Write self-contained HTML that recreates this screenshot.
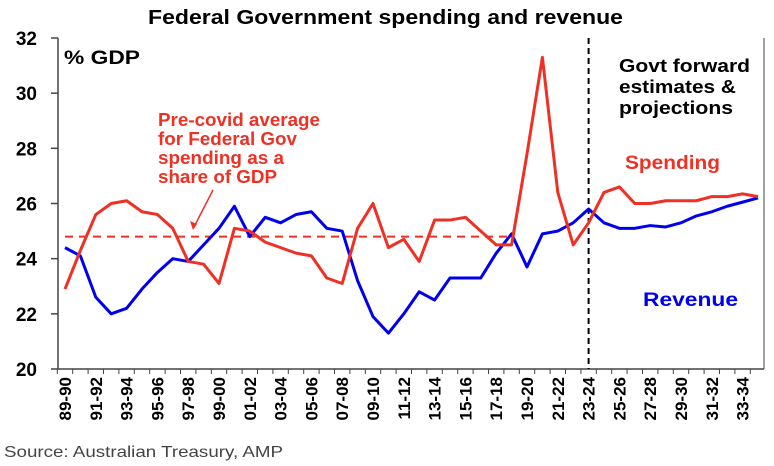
<!DOCTYPE html>
<html><head><meta charset="utf-8"><style>
body{margin:0;background:#fff;}
svg{display:block;font-family:"Liberation Sans",Arial,sans-serif;}
</style></head><body>
<svg id="chart" width="774" height="466" xmlns="http://www.w3.org/2000/svg">
<text x="148" y="24" font-size="20" font-weight="bold" textLength="475" lengthAdjust="spacingAndGlyphs">Federal Government spending and revenue</text>
<text x="4" y="457" font-size="16" fill="#444" textLength="279" lengthAdjust="spacingAndGlyphs">Source: Australian Treasury, AMP</text>
<text x="64" y="64" font-size="19" font-weight="bold" textLength="76" lengthAdjust="spacingAndGlyphs">% GDP</text>
<g id="annot" font-weight="bold" font-size="18">
<text><tspan x="619" y="72" textLength="131" lengthAdjust="spacingAndGlyphs">Govt forward</tspan><tspan x="619" y="93" textLength="117" lengthAdjust="spacingAndGlyphs">estimates &amp;</tspan><tspan x="619" y="114" textLength="114" lengthAdjust="spacingAndGlyphs">projections</tspan></text>
<text x="625" y="169" font-size="19" fill="#ee3124" textLength="95" lengthAdjust="spacingAndGlyphs">Spending</text>
<text x="643" y="306" font-size="19" fill="#0000ee" textLength="95" lengthAdjust="spacingAndGlyphs">Revenue</text>
<text fill="#ee3124"><tspan x="158" y="126" textLength="162" lengthAdjust="spacingAndGlyphs">Pre-covid average</tspan><tspan x="158" y="145" textLength="139" lengthAdjust="spacingAndGlyphs">for Federal Gov</tspan><tspan x="158" y="164" textLength="126" lengthAdjust="spacingAndGlyphs">spending as a</tspan><tspan x="158" y="183" textLength="119" lengthAdjust="spacingAndGlyphs">share of GDP</tspan></text>
</g>
<line x1="213" y1="190" x2="194" y2="227" stroke="#ee3124" stroke-width="1.5"/>
<polygon points="193,230 190,221 197,224" fill="#ee3124"/>
</svg>
<script>
const categories=[];for(let y=1989;y<=2034;y++){categories.push(String(y%100).padStart(2,'0')+'-'+String((y+1)%100).padStart(2,'0'));}
const spending=[22.9,24.3,25.6,26.0,26.1,25.7,25.6,25.1,23.9,23.8,23.1,25.1,25.0,24.6,24.4,24.2,24.1,23.3,23.1,25.1,26.0,24.4,24.7,23.9,25.4,25.4,25.5,25.0,24.5,24.5,27.8,31.3,26.4,24.5,25.3,26.4,26.6,26.0,26.0,26.1,26.1,26.1,26.25,26.25,26.35,26.25];
const revenue=[24.4,24.1,22.6,22.0,22.2,22.9,23.5,24.0,23.9,24.5,25.1,25.9,24.8,25.5,25.3,25.6,25.7,25.1,25.0,23.2,21.9,21.3,22.0,22.8,22.5,23.3,23.3,23.3,24.2,24.9,23.7,24.9,25.0,25.3,25.8,25.3,25.1,25.1,25.2,25.15,25.3,25.55,25.7,25.9,26.05,26.2];
const yTicks=[20,22,24,26,28,30,32];
const preCovidAverage=24.8;
const avgEndIndex=29;
const forecastStartIndex=34;
const NS='http://www.w3.org/2000/svg';
const svg=document.getElementById('chart');
const X0=65,STEP=15.4,Y0=369,YT=38,YMIN=20,YMAX=32,LEFT=58,RIGHT=764;
const xs=i=>X0+i*STEP;
const ys=v=>Y0-(v-YMIN)/(YMAX-YMIN)*(Y0-YT);
function mk(tag,attrs){const e=document.createElementNS(NS,tag);for(const k in attrs)e.setAttribute(k,attrs[k]);svg.appendChild(e);return e;}
let e;
e=mk('line',{x1:LEFT,y1:YT,x2:LEFT,y2:Y0,stroke:'#444','stroke-width':1.5});


e=mk('line',{x1:LEFT,y1:Y0,x2:RIGHT,y2:Y0,stroke:'#444','stroke-width':1.5});


e=mk('line',{x1:RIGHT,y1:YT,x2:RIGHT,y2:Y0,stroke:'#444','stroke-width':1});


yTicks.forEach(v=>{
 e=mk('line',{x1:LEFT-7,y1:ys(v),x2:LEFT,y2:ys(v),stroke:'#444','stroke-width':1.5});
 
 
 e=mk('text',{x:LEFT-21,y:ys(v)+7,'text-anchor':'end','font-size':19,'font-weight':'bold'});
 e.textContent=v;
 
 
});
categories.forEach((c,i)=>{
 const x=xs(i)-STEP/2;
 e=mk('line',{x1:x,y1:Y0,x2:x,y2:Y0+5,stroke:'#444','stroke-width':1});
 
 
 if(i%2===0){
  e=mk('text',{x:0,y:0,'text-anchor':'end','font-size':17,'font-weight':'bold',transform:`translate(${xs(i)+6},${Y0+8}) rotate(-90)`});
  e.textContent=c;
  
  
 }
});
e=mk('line',{x1:xs(0),y1:ys(preCovidAverage),x2:xs(avgEndIndex),y2:ys(preCovidAverage),stroke:'#ee3124','stroke-width':2,'stroke-dasharray':'8,6'});


e=mk('line',{x1:xs(forecastStartIndex),y1:YT,x2:xs(forecastStartIndex),y2:Y0,stroke:'#000','stroke-width':2,'stroke-dasharray':'6,4'});


e=mk('polyline',{points:revenue.map((v,i)=>xs(i)+','+ys(v)).join(' '),fill:'none',stroke:'#0000ee','stroke-width':3,'stroke-linejoin':'round'});


e=mk('polyline',{points:spending.map((v,i)=>xs(i)+','+ys(v)).join(' '),fill:'none',stroke:'#ee3124','stroke-width':3,'stroke-linejoin':'round'});


</script>
</body></html>
